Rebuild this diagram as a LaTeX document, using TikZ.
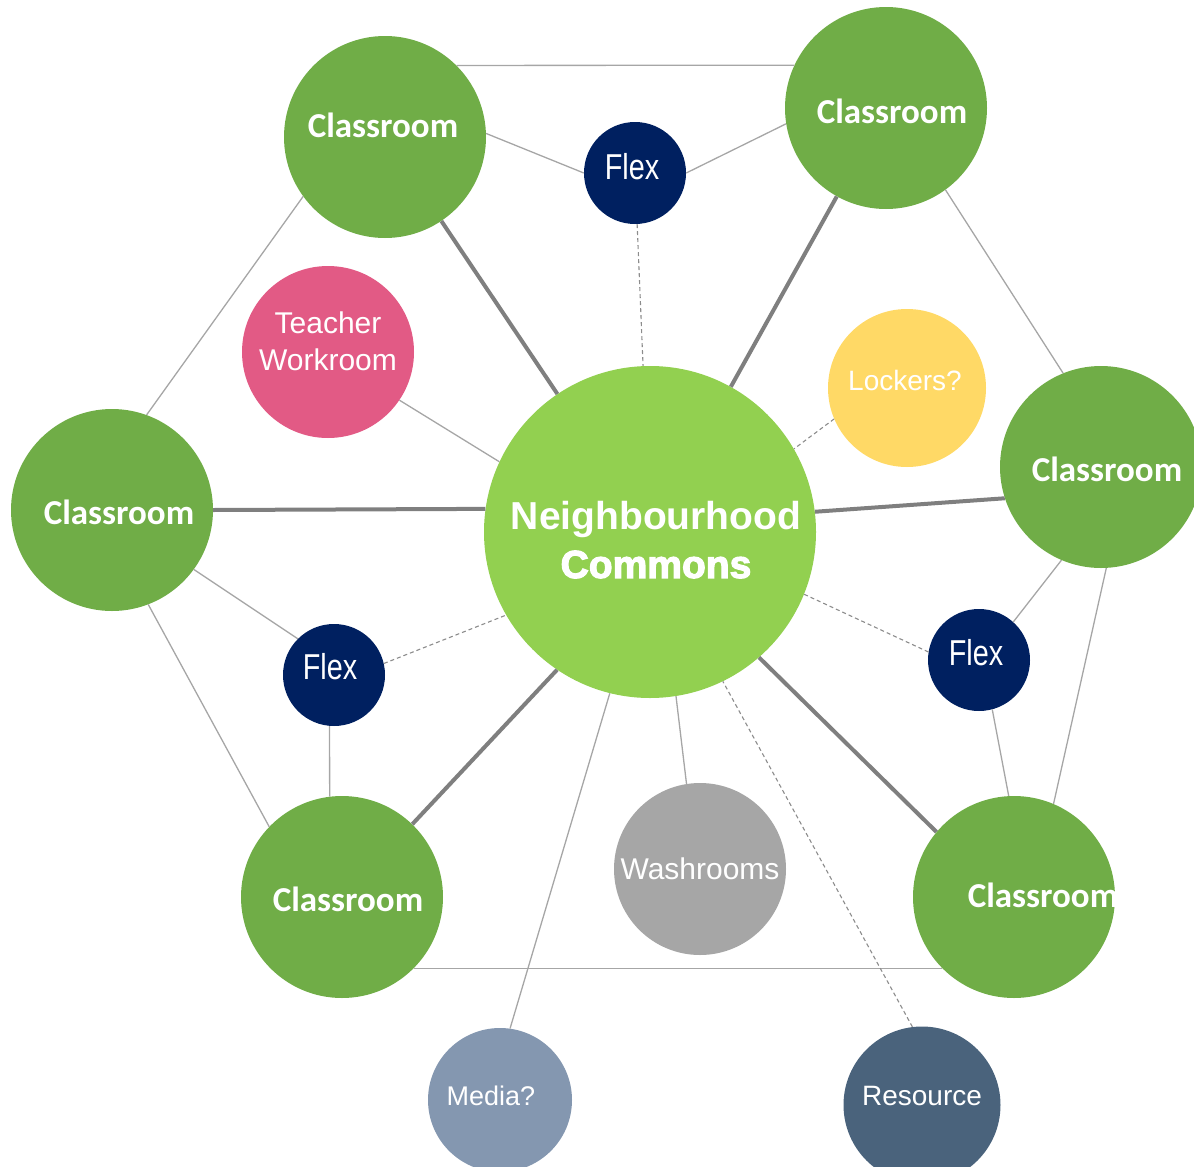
\documentclass[tikz,border=0pt]{standalone}
\usepackage{fontspec}
\setmainfont{Liberation Sans}
\newfontfamily\roomfont{Carlito}
\newfontfamily\commonsfont{Liberation Sans}[BoldFeatures={FakeBold=3}]
\definecolor{roomgreen}{HTML}{70AD47}
\definecolor{hubgreen}{HTML}{92D050}
\definecolor{flexnavy}{HTML}{002060}
\definecolor{teacherpink}{HTML}{E25A85}
\definecolor{lockeryellow}{HTML}{FFD966}
\definecolor{washgray}{HTML}{A6A6A6}
\definecolor{mediablue}{HTML}{8497B0}
\definecolor{resourceblue}{HTML}{4A637C}
\definecolor{lightline}{HTML}{A6A6A6}
\definecolor{heavyline}{HTML}{7F7F7F}
\definecolor{dashline}{HTML}{8C8C8C}
\newcommand{\squeeze}[1]{\scalebox{0.8}[1]{#1}}

\begin{document}
\begin{tikzpicture}
[x=1pt,y=-1pt,
  room/.style={circle,fill=roomgreen,minimum size=202pt,inner sep=0pt},
  roomtext/.style={text=white,font=\roomfont\bfseries\fontsize{35}{42}\selectfont},
  spot/.style={circle,minimum size=#1,inner sep=0pt},
  spottext/.style={text=white,align=center,font=\fontsize{#1}{37}\selectfont},
  lightlink/.style={draw=lightline,line width=1.3pt},
  heavylink/.style={draw=heavyline,line width=4pt},
  dashlink/.style={draw=dashline,line width=1.1pt,dash pattern=on 4pt off 3pt}]
  \useasboundingbox (0,0) rectangle (1194,1167);
  \clip (0,0) rectangle (1194,1167);
  % commons in the middle
  \node[spot=332pt,fill=hubgreen,label={[text=white,align=center,xshift=6pt,yshift=-8pt,
    font=\bfseries\fontsize{39}{48}\selectfont]center:{Neighbourhood\\{\commonsfont\bfseries Commons}}}] (hub) at (650,532) {};
  % classrooms
  \node[room,label={[roomtext,xshift=-2pt,yshift=12pt]center:Classroom}] (crTL) at (385,137) {};
  \node[room,label={[roomtext,xshift=6pt,yshift=-3pt]center:Classroom}] (crTR) at (886,108) {};
  \node[room,label={[roomtext,xshift=7pt,yshift=-2pt]center:Classroom}] (crL) at (112,510) {};
  \node[room,label={[roomtext,xshift=6pt,yshift=-2pt]center:Classroom}] (crR) at (1101,467) {};
  \node[room,label={[roomtext,xshift=6pt,yshift=-2pt]center:Classroom}] (crBL) at (342,897) {};
  \node[room,label={[roomtext,xshift=29pt,yshift=2pt]center:Classroom}] (crBR) at (1014,897) {};
  % flex spaces
  \node[spot=102pt,fill=flexnavy,label={[spottext=36,xshift=-3pt,yshift=6pt]center:\squeeze{Flex}}] (flexT) at (635,173) {};
  \node[spot=102pt,fill=flexnavy,label={[spottext=36,xshift=-4pt,yshift=8pt]center:\squeeze{Flex}}] (flexL) at (334,675) {};
  \node[spot=102pt,fill=flexnavy,label={[spottext=36,xshift=-3pt,yshift=7pt]center:\squeeze{Flex}}] (flexR) at (979,660) {};
  % support rooms
  \node[spot=172pt,fill=teacherpink,label={[spottext=30,yshift=11pt]center:Teacher\\Workroom}] (teacher) at (328,352) {};
  \node[spot=158pt,fill=lockeryellow,label={[spottext=28,xshift=-2pt,yshift=8pt]center:Lockers?}] (lockers) at (907,388) {};
  \node[spot=172pt,fill=washgray,label={[spottext=30]center:Washrooms}] (wash) at (700,869) {};
  \node[spot=144pt,fill=mediablue,label={[spottext=27,xshift=-9pt,yshift=4pt]center:Media?}] (media) at (500,1100) {};
  \node[spot=157pt,fill=resourceblue,label={[spottext=28,yshift=9pt]center:Resource}] (resource) at (922,1105) {};

  \path (crTL.45) edge[lightlink] (crTR.155)
        (crTL.2) edge[lightlink] (flexT.180)
        (flexT.0) edge[lightlink] (crTR.189)
        (crTL.216) edge[lightlink] (crL.70)
        (crTR.-54) edge[lightlink] (crR.112)
        (crL.-36) edge[lightlink] (flexL.135)
        (crL.-69) edge[lightlink] (crBL.136)
        (flexL.-95) edge[lightlink] (crBL.97)
        (flexR.48) edge[lightlink] (crR.247)
        (flexR.-75) edge[lightlink] (crBR.93)
        (crR.-87) edge[lightlink] (crBR.67)
        (crBL.-45) edge[lightlink] (crBR.225)
        (teacher.-34) edge[lightlink] (hub.155)
        (media.82) edge[lightlink] (hub.256)
        (wash.99) edge[lightlink] (hub.-81);
  \path (crTL) edge[heavylink] (hub)
        (crTR) edge[heavylink] (hub)
        (crL.0) edge[heavylink] (hub.172)
        (crR.198) edge[heavylink] (hub.7)
        (crBL.46) edge[heavylink] (hub.236)
        (crBR.140) edge[heavylink] (hub.-49);
  \path (flexT) edge[dashlink] (hub)
        (flexL.13) edge[dashlink] (hub.210)
        (flexR.171) edge[dashlink] (hub.-22)
        (lockers.203) edge[dashlink] (hub.30)
        (resource.97) edge[dashlink] (hub.-64);
\end{tikzpicture}
\end{document}
